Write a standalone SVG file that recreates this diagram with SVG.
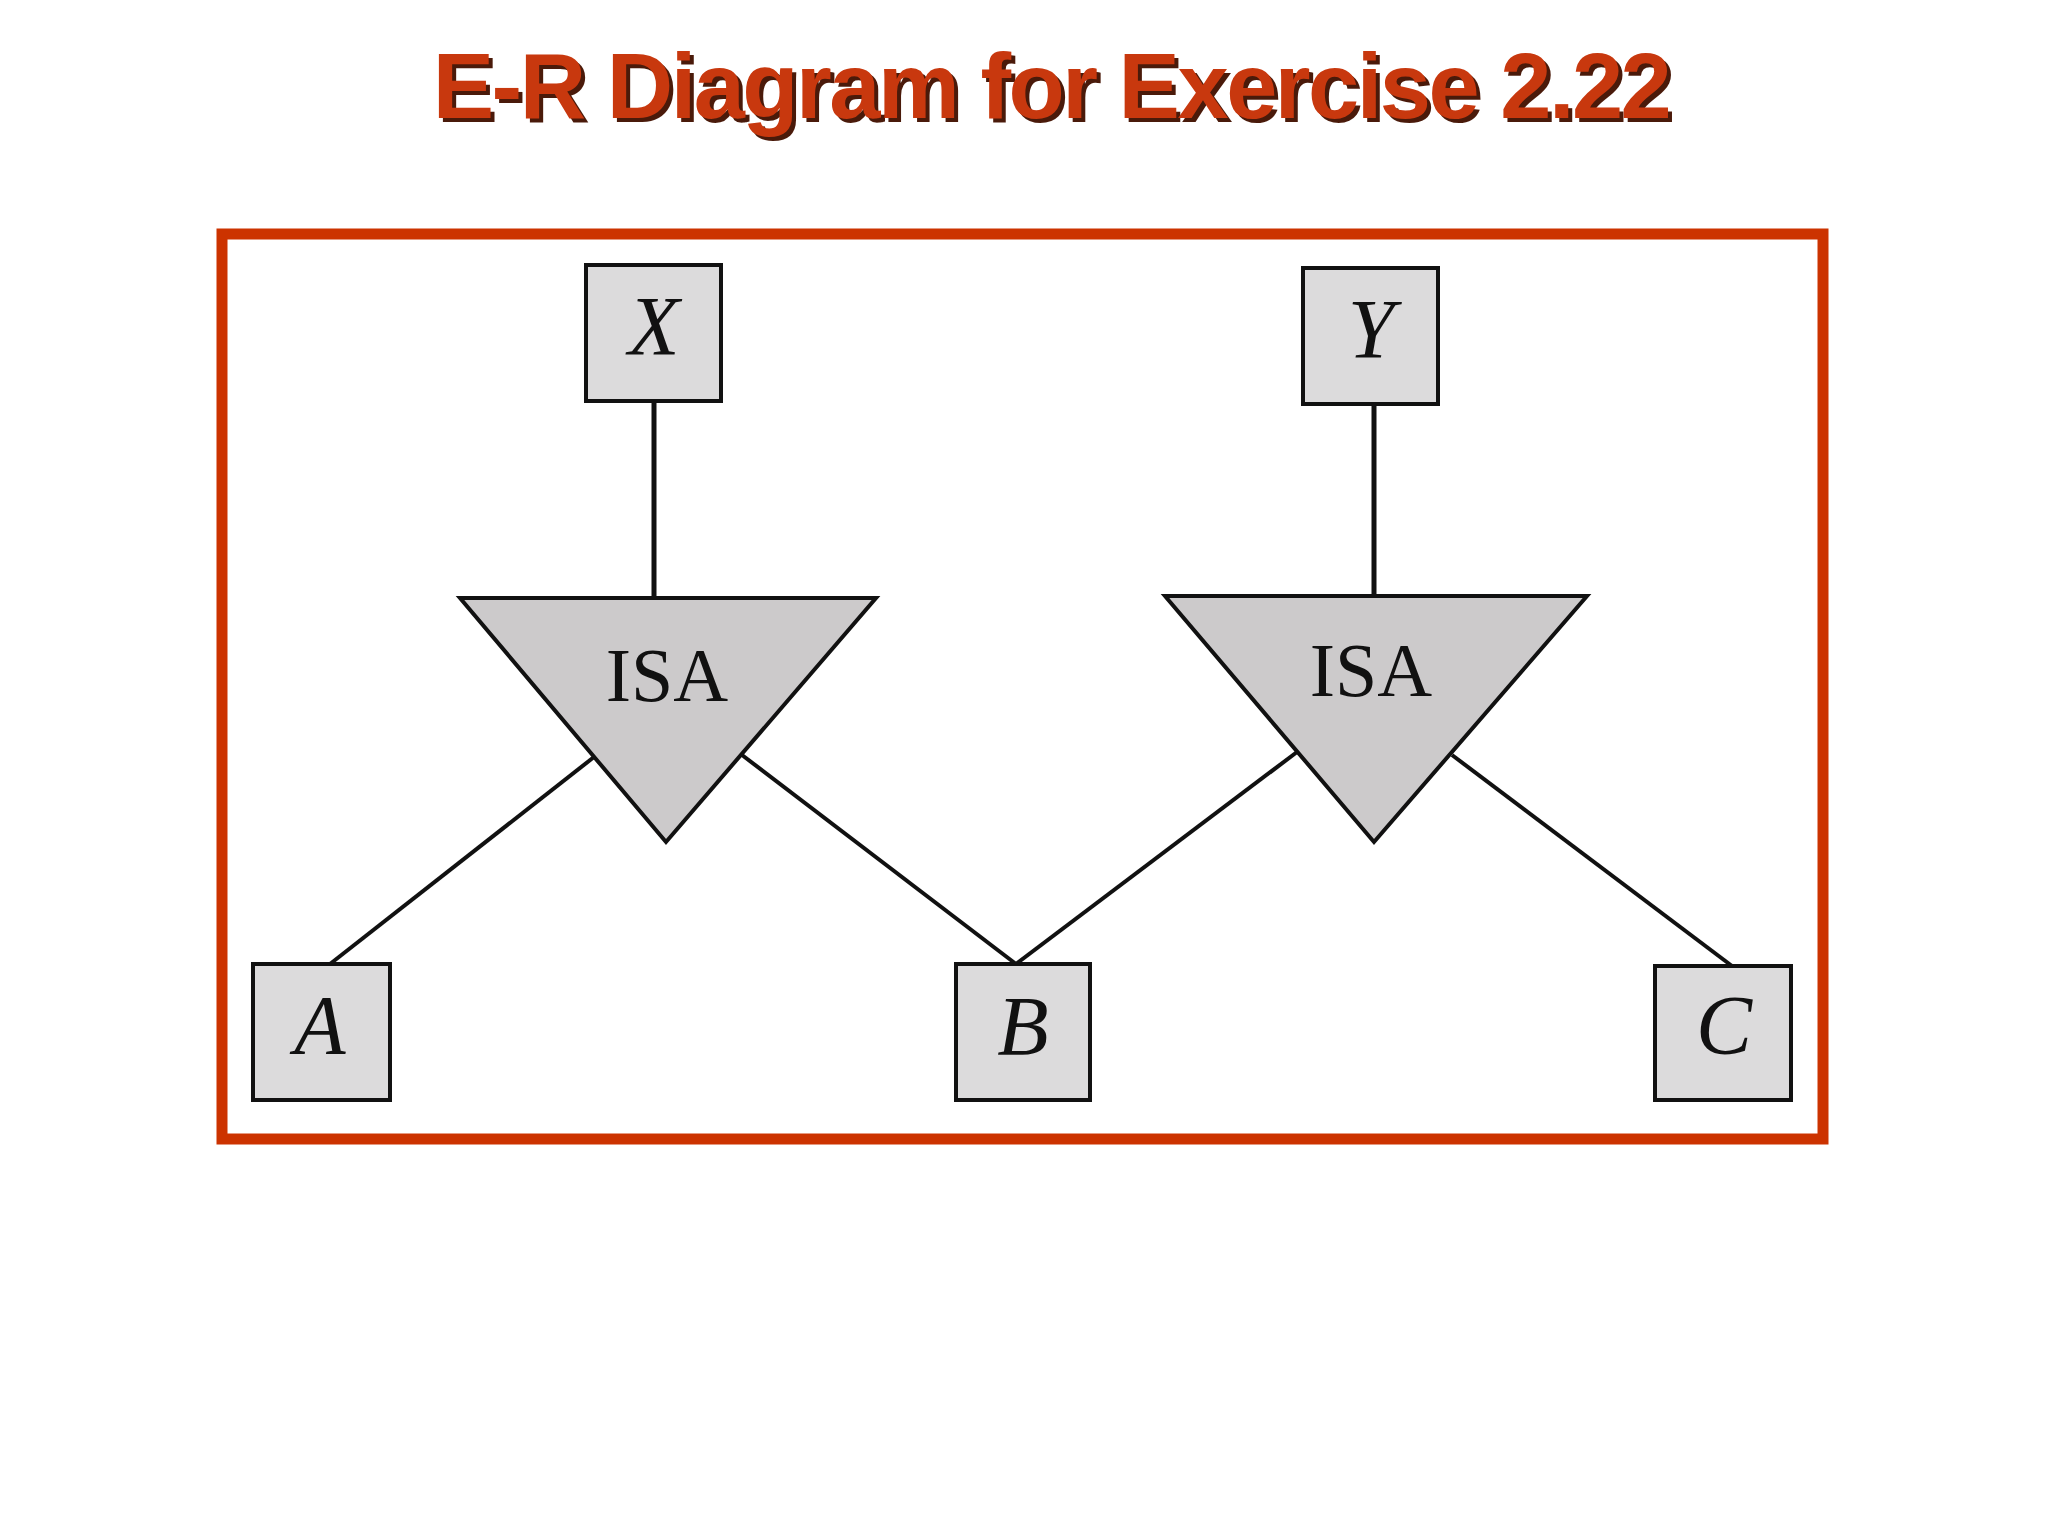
<svg xmlns="http://www.w3.org/2000/svg" width="2048" height="1536" viewBox="0 0 2048 1536">
<style>
.box{fill:#dcdbdc;stroke:#111;stroke-width:4}
.tri{fill:#cccacb;stroke:#111;stroke-width:4;stroke-linejoin:miter}
.lbl{font-family:"Liberation Serif",serif;font-style:italic;font-size:84px;fill:#111;text-anchor:middle}
.isa{font-family:"Liberation Serif",serif;font-size:76px;fill:#111;text-anchor:middle}
.conn line{stroke:#111;stroke-width:4}
.conn line.v{stroke-width:5}
.title{font-family:"Liberation Sans",Arial,sans-serif;font-weight:bold;font-size:92px;text-anchor:middle;letter-spacing:-2.5px}
</style>
<rect width="2048" height="1536" fill="#fff"/>
<text class="title" x="1055" y="122" fill="#4a1a0a">E-R Diagram for Exercise 2.22</text>
<text class="title" x="1051" y="118" fill="#c8380e">E-R Diagram for Exercise 2.22</text>
<rect x="222" y="234" width="1601" height="905" fill="none" stroke="#cc3300" stroke-width="11"/>
<g class="conn">
<line class="v" x1="654" y1="401" x2="654" y2="598"/>
<line class="v" x1="1374" y1="404" x2="1374" y2="596"/>
<line x1="594" y1="757" x2="330" y2="964"/>
<line x1="742" y1="755" x2="1016" y2="964"/>
<line x1="1297" y1="752" x2="1016" y2="964"/>
<line x1="1452" y1="755" x2="1732" y2="966"/>
</g>
<g id="isa1"><polygon class="tri" points="460,598 876,598 666,842"/><text class="isa" x="667" y="701">ISA</text></g>
<g id="isa2"><polygon class="tri" points="1165,596 1587,596 1374,842"/><text class="isa" x="1371" y="696">ISA</text></g>
<g id="X"><rect class="box" x="586" y="265" width="135" height="136"/><text class="lbl" x="654" y="355">X</text></g>
<g id="Y"><rect class="box" x="1303" y="268" width="135" height="136"/><text class="lbl" x="1371" y="358">Y</text></g>
<g id="A"><rect class="box" x="253" y="964" width="137" height="136"/><text class="lbl" x="320" y="1054">A</text></g>
<g id="B"><rect class="box" x="956" y="964" width="134" height="136"/><text class="lbl" x="1023" y="1055">B</text></g>
<g id="C"><rect class="box" x="1655" y="966" width="136" height="134"/><text class="lbl" x="1724" y="1054">C</text></g>
</svg>
